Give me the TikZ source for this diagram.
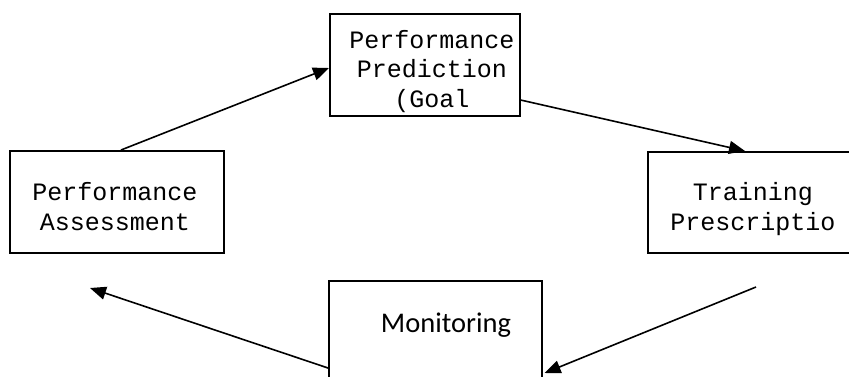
\documentclass[tikz,border=0pt]{standalone}
\usepackage{fontspec}
\setmonofont{Liberation Mono}
\newfontfamily\calib{Carlito}
\usetikzlibrary{arrows.meta,calc}
\begin{document}
\begin{tikzpicture}[x=1pt,y=-1pt,
  box/.style={draw,line width=1.6pt,inner sep=0pt,anchor=north west},
  mono/.style={font=\ttfamily\fontsize{25}{29.5}\selectfont,align=center,inner sep=0pt,anchor=base},
  arr/.style={line width=1.6pt,-{Triangle[length=16pt,width=13pt]}}]
\clip (0,0) rectangle (849,376);
\useasboundingbox (0,0) rectangle (849,376);
\node[box,minimum width=190pt,minimum height=102pt] (pred) at (329,13) {};
\node[box,minimum width=214pt,minimum height=102pt] (assess) at (9,150) {};
\node[box,minimum width=230pt,minimum height=101pt] (train) at (647,151) {};
\node[box,minimum width=213pt,minimum height=130pt] (mon) at (328,280) {};
\node[mono] (predt) at (432,107) {Performance\\Prediction\\(Goal};
\node[mono] (assesst) at (115,230) {Performance\\Assessment};
\node[mono] (traint) at (753,230) {Training\\Prescriptio};
\node[font=\calib\fontsize{28.5}{34}\selectfont,inner sep=0pt,anchor=base] (mont) at (446,332) {Monitoring};
\coordinate (freeR) at (756,287);
\coordinate (freeL) at (90,288);
\draw[arr] ($(assess.north west)+(112,0)$) -- (pred.west |- 0,68);
\draw[arr] (pred.east |- 0,100) -- ($(train.north west)+(98,0)$);
\draw[arr] (freeR) -- ($(mon.north east)+(2,93)$);
\draw[arr] ($(mon.north west)+(0,88)$) -- (freeL);
\end{tikzpicture}
\end{document}
